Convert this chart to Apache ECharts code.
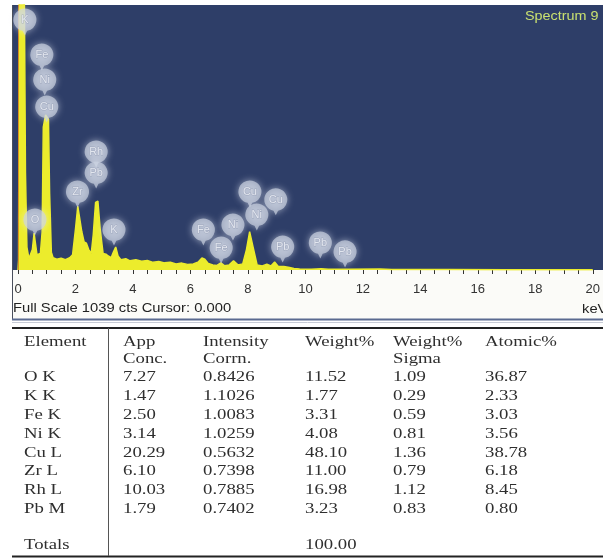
<!DOCTYPE html>
<html><head><meta charset="utf-8">
<script src="https://cdn.jsdelivr.net/npm/echarts@6/dist/echarts.min.js"></script>
<style>html,body{margin:0;padding:0;background:#fff}#c{width:603px;height:559px}</style>
</head><body><div id="c"></div>
<script>
// ---- spectrum data (energy in keV, counts) ----
const fullScaleCts = 1039;
const energyKeV = [0.00,0.02,0.04,0.22,0.26,0.31,0.38,0.44,0.50,0.56,0.60,0.66,0.72,0.78,0.84,0.88,0.96,1.06,1.10,1.16,1.22,1.35,1.50,1.65,1.80,1.90,2.00,2.08,2.14,2.22,2.30,2.38,2.46,2.55,2.62,2.70,2.78,2.86,2.96,3.06,3.14,3.24,3.32,3.40,3.48,3.58,3.75,3.90,4.10,4.30,4.50,4.70,4.90,5.10,5.30,5.50,5.70,5.90,6.10,6.28,6.40,6.50,6.62,6.78,6.92,7.06,7.18,7.35,7.50,7.65,7.82,7.95,8.06,8.18,8.32,8.50,8.66,8.80,8.93,9.05,9.25,9.45,9.60,9.80,10.2,10.55,10.8,11.5,12.6,13.0,15.0,17.0,20.0];
const counts    = [0,40,1100,1100,380,90,45,40,80,145,110,60,55,65,150,560,608,590,300,70,48,42,46,40,48,60,160,250,255,150,110,105,80,65,140,265,270,160,65,62,55,48,70,90,55,40,44,36,40,34,37,30,33,28,30,24,27,22,24,32,47,42,26,20,18,28,17,20,36,20,24,80,150,90,20,16,23,16,31,15,14,10,6,4,3,5,3,3,4,2,2,1,1];
const cursorKeV = 0.0;
// element markers on the spectrum
const markerText   = ['K','Fe','Ni','Cu','Rh','Pb','Zr','O','K','Fe','Fe','Ni','Cu','Ni','Cu','Pb','Pb','Pb'];
const markerKeV    = [0.24,0.83,0.93,1.00,2.72,2.72,2.07,0.59,3.34,6.45,7.07,7.48,8.07,8.31,8.97,9.21,10.52,11.38];
const markerCounts = [980,843,745,639,463,380,306,196,157,157,86,176,306,216,275,90,106,71];
const xTicks = [0,2,4,6,8,10,12,14,16,18,20];
// ---- quantification table ----
const elements       = ['O K','K K','Fe K','Ni K','Cu L','Zr L','Rh L','Pb M'];
const appConc        = [7.27,1.47,2.50,3.14,20.29,6.10,10.03,1.79];
const intensityCorrn = [0.8426,1.1026,1.0083,1.0259,0.5632,0.7398,0.7885,0.7402];
const weightPct      = [11.52,1.77,3.31,4.08,48.10,11.00,16.98,3.23];
const weightSigma    = [1.09,0.29,0.59,0.81,1.36,0.79,1.12,0.83];
const atomicPct      = [36.87,2.33,3.03,3.56,38.78,6.18,8.45,0.80];
const totalWeight    = 100.00;

const chart = echarts.init(document.getElementById('c'), null, {renderer:'canvas'});

const serif = '15px "Liberation Serif", "Times New Roman", serif';
const tColor = '#2e2e2e';
const g = [];
// spectrum frame
g.push({type:'rect', z:-5, shape:{x:12,y:5,width:591,height:314}, style:{fill:'#fbfbf8'}});
g.push({type:'rect', z:-4, shape:{x:12,y:5,width:591,height:265}, style:{fill:'#2e3e68'}});
g.push({type:'line', z:10, shape:{x1:12.5,y1:5,x2:12.5,y2:320}, style:{stroke:'#4a4f5c',lineWidth:1}});
g.push({type:'line', z:10, shape:{x1:12,y1:319.5,x2:603,y2:319.5}, style:{stroke:'#5a6a90',lineWidth:2}});
g.push({type:'line', z:10, shape:{x1:12,y1:322.5,x2:603,y2:322.5}, style:{stroke:'#c8ccd6',lineWidth:1}});
function txt(s, x, y, font, fill, sx){
  g.push({type:'text', z:20, x:x, y:y, scaleX:sx||1, style:{text:s, font:font, fill:fill, textAlign:'left', textVerticalAlign:'middle'}});
}
const sans = '12.5px "Liberation Sans", Arial, sans-serif';
txt('Full Scale ' + fullScaleCts + ' cts Cursor: ' + cursorKeV.toFixed(3), 13, 309, sans, '#222', 1.18);
txt('keV', 582, 310, sans, '#222', 1.18);
txt('Spectrum 9', 525, 17, sans, '#c9e070', 1.15);
// table
g.push({type:'line', z:10, shape:{x1:12,y1:328,x2:603,y2:328}, style:{stroke:'#222',lineWidth:2}});
g.push({type:'line', z:10, shape:{x1:12,y1:556.5,x2:603,y2:556.5}, style:{stroke:'#222',lineWidth:2}});
g.push({type:'line', z:10, shape:{x1:108.5,y1:328,x2:108.5,y2:556}, style:{stroke:'#555',lineWidth:1}});
const colX = [24,123,203,305,393,485];
const sx = 1.25;
const h1 = ['Element','App','Intensity','Weight%','Weight%','Atomic%'];
const h2 = ['','Conc.','Corrn.','','Sigma',''];
h1.forEach((s,i)=>txt(s, colX[i], 342, serif, tColor, sx));
h2.forEach((s,i)=>{ if(s) txt(s, colX[i], 359, serif, tColor, sx); });
const rowY0 = 377, rowStep = 18.9;
elements.forEach((el,i)=>{
  const y = rowY0 + i*rowStep;
  txt(el, colX[0], y, serif, tColor, sx);
  txt(appConc[i].toFixed(2), colX[1], y, serif, tColor, sx);
  txt(intensityCorrn[i].toFixed(4), colX[2], y, serif, tColor, sx);
  txt(weightPct[i].toFixed(2), colX[3], y, serif, tColor, sx);
  txt(weightSigma[i].toFixed(2), colX[4], y, serif, tColor, sx);
  txt(atomicPct[i].toFixed(2), colX[5], y, serif, tColor, sx);
});
txt('Totals', colX[0], 545, serif, tColor, sx);
txt(totalWeight.toFixed(2), colX[3], 545, serif, tColor, sx);

const balloon = 'path://M-2,9.8 A10,10 0 1,1 2,9.8 L0,14 Z';

chart.setOption({
  animation:false,
  grid:{left:18, right:5, top:5, bottom:289, containLabel:false},
  xAxis:{type:'value', min:0, max:20, interval:2,
    axisLine:{show:false},
    axisTick:{show:true, length:4, lineStyle:{color:'#333', width:1}},
    minorTick:{show:true, splitNumber:4, length:4, lineStyle:{color:'#333', width:1}},
    splitLine:{show:false}, minorSplitLine:{show:false},
    axisLabel:{show:true, margin:13, color:'#333', fontSize:13, fontFamily:'"Liberation Sans", Arial, sans-serif',
      customValues: xTicks, formatter: v => String(v)}
  },
  yAxis:{type:'value', min:0, max:fullScaleCts, show:false, splitLine:{show:false}},
  graphic:{elements:g},
  series:[
    {type:'line', data: energyKeV.map((e,i)=>[e,counts[i]]), symbol:'none', clip:true,
     lineStyle:{color:'#ecec2c', width:1.5}, areaStyle:{color:'#ecec2c', opacity:1}, z:2,
     markLine:{silent:true, symbol:'none', label:{show:false},
       lineStyle:{color:'#d9801e', width:1, type:'solid', opacity:0.8}, data:[{xAxis:cursorKeV}]}},
    {type:'scatter', data: markerKeV.map((e,i)=>({name:markerText[i], value:[e, markerCounts[i]]})),
     symbol: balloon, symbolSize:[23,27], symbolOffset:[0,2], z:5, clip:false,
     itemStyle:{color:'rgba(204,211,226,0.85)', shadowBlur:7, shadowColor:'rgba(235,240,250,0.8)'},
     label:{show:true, position:'inside', offset:[0,-2], formatter: p => p.name, color:'#f2f5fa', fontSize:11,
       fontFamily:'"Liberation Sans", Arial, sans-serif', textBorderColor:'rgba(140,150,175,0.7)', textBorderWidth:1}}
  ]
});
</script></body></html>
